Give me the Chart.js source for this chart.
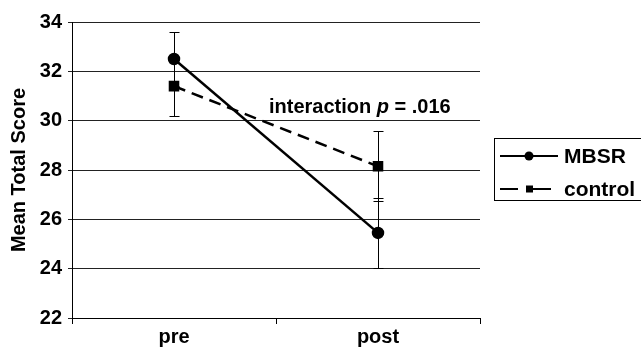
<!DOCTYPE html>
<html>
<head>
<meta charset="utf-8">
<script src="https://cdn.jsdelivr.net/npm/chart.js@4"></script>
<style>
  html, body { margin: 0; padding: 0; background: #fff; }
  canvas { display: block; }
</style>
</head>
<body>
<canvas id="grafico" width="641" height="347"></canvas>
<script>
const categorias = ['pre', 'post'];
const mbsr = [32.5, 25.45];
const mbsrErr = [1.1, 1.42];
const control = [31.4, 28.15];
const controlErr = [1.2, 1.42];
const ticksY = [22, 24, 26, 28, 30, 32, 34];

const FUENTE = "'Liberation Sans', Arial, sans-serif";

// barras de error, debajo de los puntos
const barrasError = {
    id: 'barrasError',
    beforeDatasetsDraw(chart) {
        const ctx = chart.ctx;
        const y = chart.scales.y;
        const errores = [mbsrErr, controlErr];
        ctx.save();
        ctx.strokeStyle = '#000';
        ctx.lineWidth = 1;
        chart.data.datasets.forEach((ds, i) => {
            const meta = chart.getDatasetMeta(i);
            ds.data.forEach((v, j) => {
                const x = Math.round(meta.data[j].x) + 0.5;
                const arriba = Math.round(y.getPixelForValue(v + errores[i][j])) + 0.5;
                const abajo = Math.round(y.getPixelForValue(v - errores[i][j])) + 0.5;
                ctx.beginPath();
                ctx.moveTo(x, arriba); ctx.lineTo(x, abajo);
                ctx.moveTo(x - 5, arriba); ctx.lineTo(x + 5, arriba);
                ctx.moveTo(x - 5, abajo); ctx.lineTo(x + 5, abajo);
                ctx.stroke();
            });
        });
        ctx.restore();
    }
};

// leyenda y texto de la interaccion
const extras = {
    id: 'extras',
    afterDraw(chart) {
        const ctx = chart.ctx;
        ctx.save();
        ctx.fillStyle = '#000';
        ctx.textBaseline = 'middle';

        // texto
        let x = 269;
        const yTxt = 107;
        const partes = [['interaction ', 'bold'], ['p', 'italic bold'], [' = .016', 'bold']];
        partes.forEach(([t, estilo]) => {
            ctx.font = estilo + ' 20px ' + FUENTE;
            ctx.fillText(t, x, yTxt);
            x += ctx.measureText(t).width;
        });

        // leyenda
        ctx.strokeStyle = '#000';
        ctx.lineWidth = 1;
        ctx.strokeRect(494.5, 138.5, 160, 62);
        ctx.lineWidth = 2;
        ctx.beginPath();
        ctx.moveTo(500, 156); ctx.lineTo(558, 156);
        ctx.stroke();
        ctx.beginPath();
        ctx.arc(529, 156, 4.5, 0, Math.PI * 2);
        ctx.fill();
        ctx.beginPath();
        ctx.moveTo(500, 189); ctx.lineTo(518, 189);
        ctx.moveTo(526, 189); ctx.lineTo(551, 189);
        ctx.stroke();
        ctx.fillRect(526, 185.5, 7, 7);
        ctx.font = 'bold 21px ' + FUENTE;
        ctx.fillText('MBSR', 564, 157);
        ctx.fillText('control', 564, 190);
        ctx.restore();
    }
};

const ctx = document.getElementById('grafico').getContext('2d');
new Chart(ctx, {
    type: 'line',
    data: {
        labels: categorias,
        datasets: [
            {
                label: 'MBSR',
                data: mbsr,
                borderColor: '#000',
                backgroundColor: '#000',
                borderWidth: 2.5,
                pointStyle: 'circle',
                pointRadius: 5,
                fill: false,
                tension: 0
            },
            {
                label: 'control',
                data: control,
                borderColor: '#000',
                backgroundColor: '#000',
                borderWidth: 2.5,
                borderDash: [12, 7],
                pointStyle: 'rect',
                pointRadius: 5.7,
                fill: false,
                tension: 0
            }
        ]
    },
    options: {
        responsive: false,
        animation: false,
        devicePixelRatio: 1,
        layout: { padding: { top: 22, right: 161, left: 0, bottom: 0 } },
        plugins: {
            legend: { display: false },
            tooltip: { enabled: false }
        },
        scales: {
            x: {
                type: 'category',
                offset: true,
                grid: { offset: true, drawOnChartArea: false, drawTicks: true, tickLength: 6, color: '#000' },
                border: { color: '#000', width: 1 },
                ticks: { color: '#000', font: { family: FUENTE, weight: 'bold', size: 20 }, padding: 1 },
                afterFit(s) { s.height = 29; }
            },
            y: {
                min: 22,
                max: 34,
                afterBuildTicks(s) { s.ticks = ticksY.map(v => ({ value: v })); },
                grid: { color: '#222', tickLength: 4 },
                border: { color: '#000', width: 1 },
                ticks: { color: '#000', font: { family: FUENTE, weight: 'bold', size: 20 }, padding: 6 },
                title: {
                    display: true,
                    text: 'Mean Total Score',
                    color: '#000',
                    font: { family: FUENTE, weight: 'bold', size: 20 },
                    padding: { top: 7, bottom: 0 }
                },
                afterFit(s) { s.width = 72; }
            }
        }
    },
    plugins: [barrasError, extras]
});
</script>
</body>
</html>
